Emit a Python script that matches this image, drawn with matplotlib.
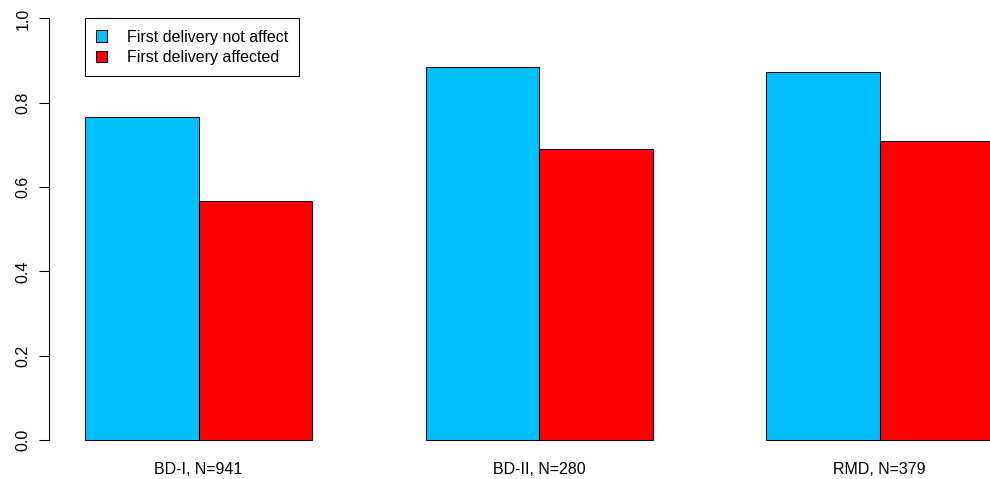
import numpy as np
import matplotlib
matplotlib.use("Agg")
import matplotlib.pyplot as plt
from matplotlib import rcParams
rcParams["font.family"] = ["Liberation Sans", "DejaVu Sans"]
rcParams["font.size"] = 11.5

groups = ["BD-I, N=941", "BD-II, N=280", "RMD, N=379"]
not_affected = [0.767, 0.886, 0.874]
affected = [0.568, 0.691, 0.709]
series_names = ["First delivery not affect", "First delivery affected"]

fig = plt.figure(figsize=(9.9, 4.79), dpi=100)
# R-style plot region; right part runs past the figure edge
ax = fig.add_axes([48.7/990, 22.1/479, (990-48.7)/990, (456.9-1.6)/479])

left = 1 + 3*np.arange(len(groups))
ax.bar(left, not_affected, width=1, align="edge", color="#00BFFF",
       edgecolor="black", linewidth=0.75, label=series_names[0])
ax.bar(left + 1, affected, width=1, align="edge", color="#FF0000",
       edgecolor="black", linewidth=0.75, label=series_names[1])

ax.set_xlim(0.68, 0.68 + (990-48.7)/113.5)
ax.set_ylim(-0.04, 1.04)

ax.set_xticks(left + 1)
ax.set_xticklabels(groups)
ax.tick_params(axis="x", length=0, pad=4)

ax.set_yticks(np.arange(0, 1.01, 0.2))
ax.set_yticklabels(["0.0", "0.2", "0.4", "0.6", "0.8", "1.0"], rotation=90, va="center")
ax.tick_params(axis="y", length=7.2, width=0.75, pad=6)

for s in ["top", "right", "bottom"]:
    ax.spines[s].set_visible(False)
ax.spines["left"].set_bounds(0, 1)
ax.spines["left"].set_linewidth(0.75)

leg = ax.legend(loc="upper left", bbox_to_anchor=(1, 1), bbox_transform=ax.transData,
                borderaxespad=0, fancybox=False, framealpha=1, edgecolor="black",
                handlelength=0.7, handleheight=0.7, handletextpad=1.2,
                borderpad=0.7, labelspacing=0.35)
leg.get_frame().set_linewidth(0.75)

fig.savefig("out.png", dpi=100)
